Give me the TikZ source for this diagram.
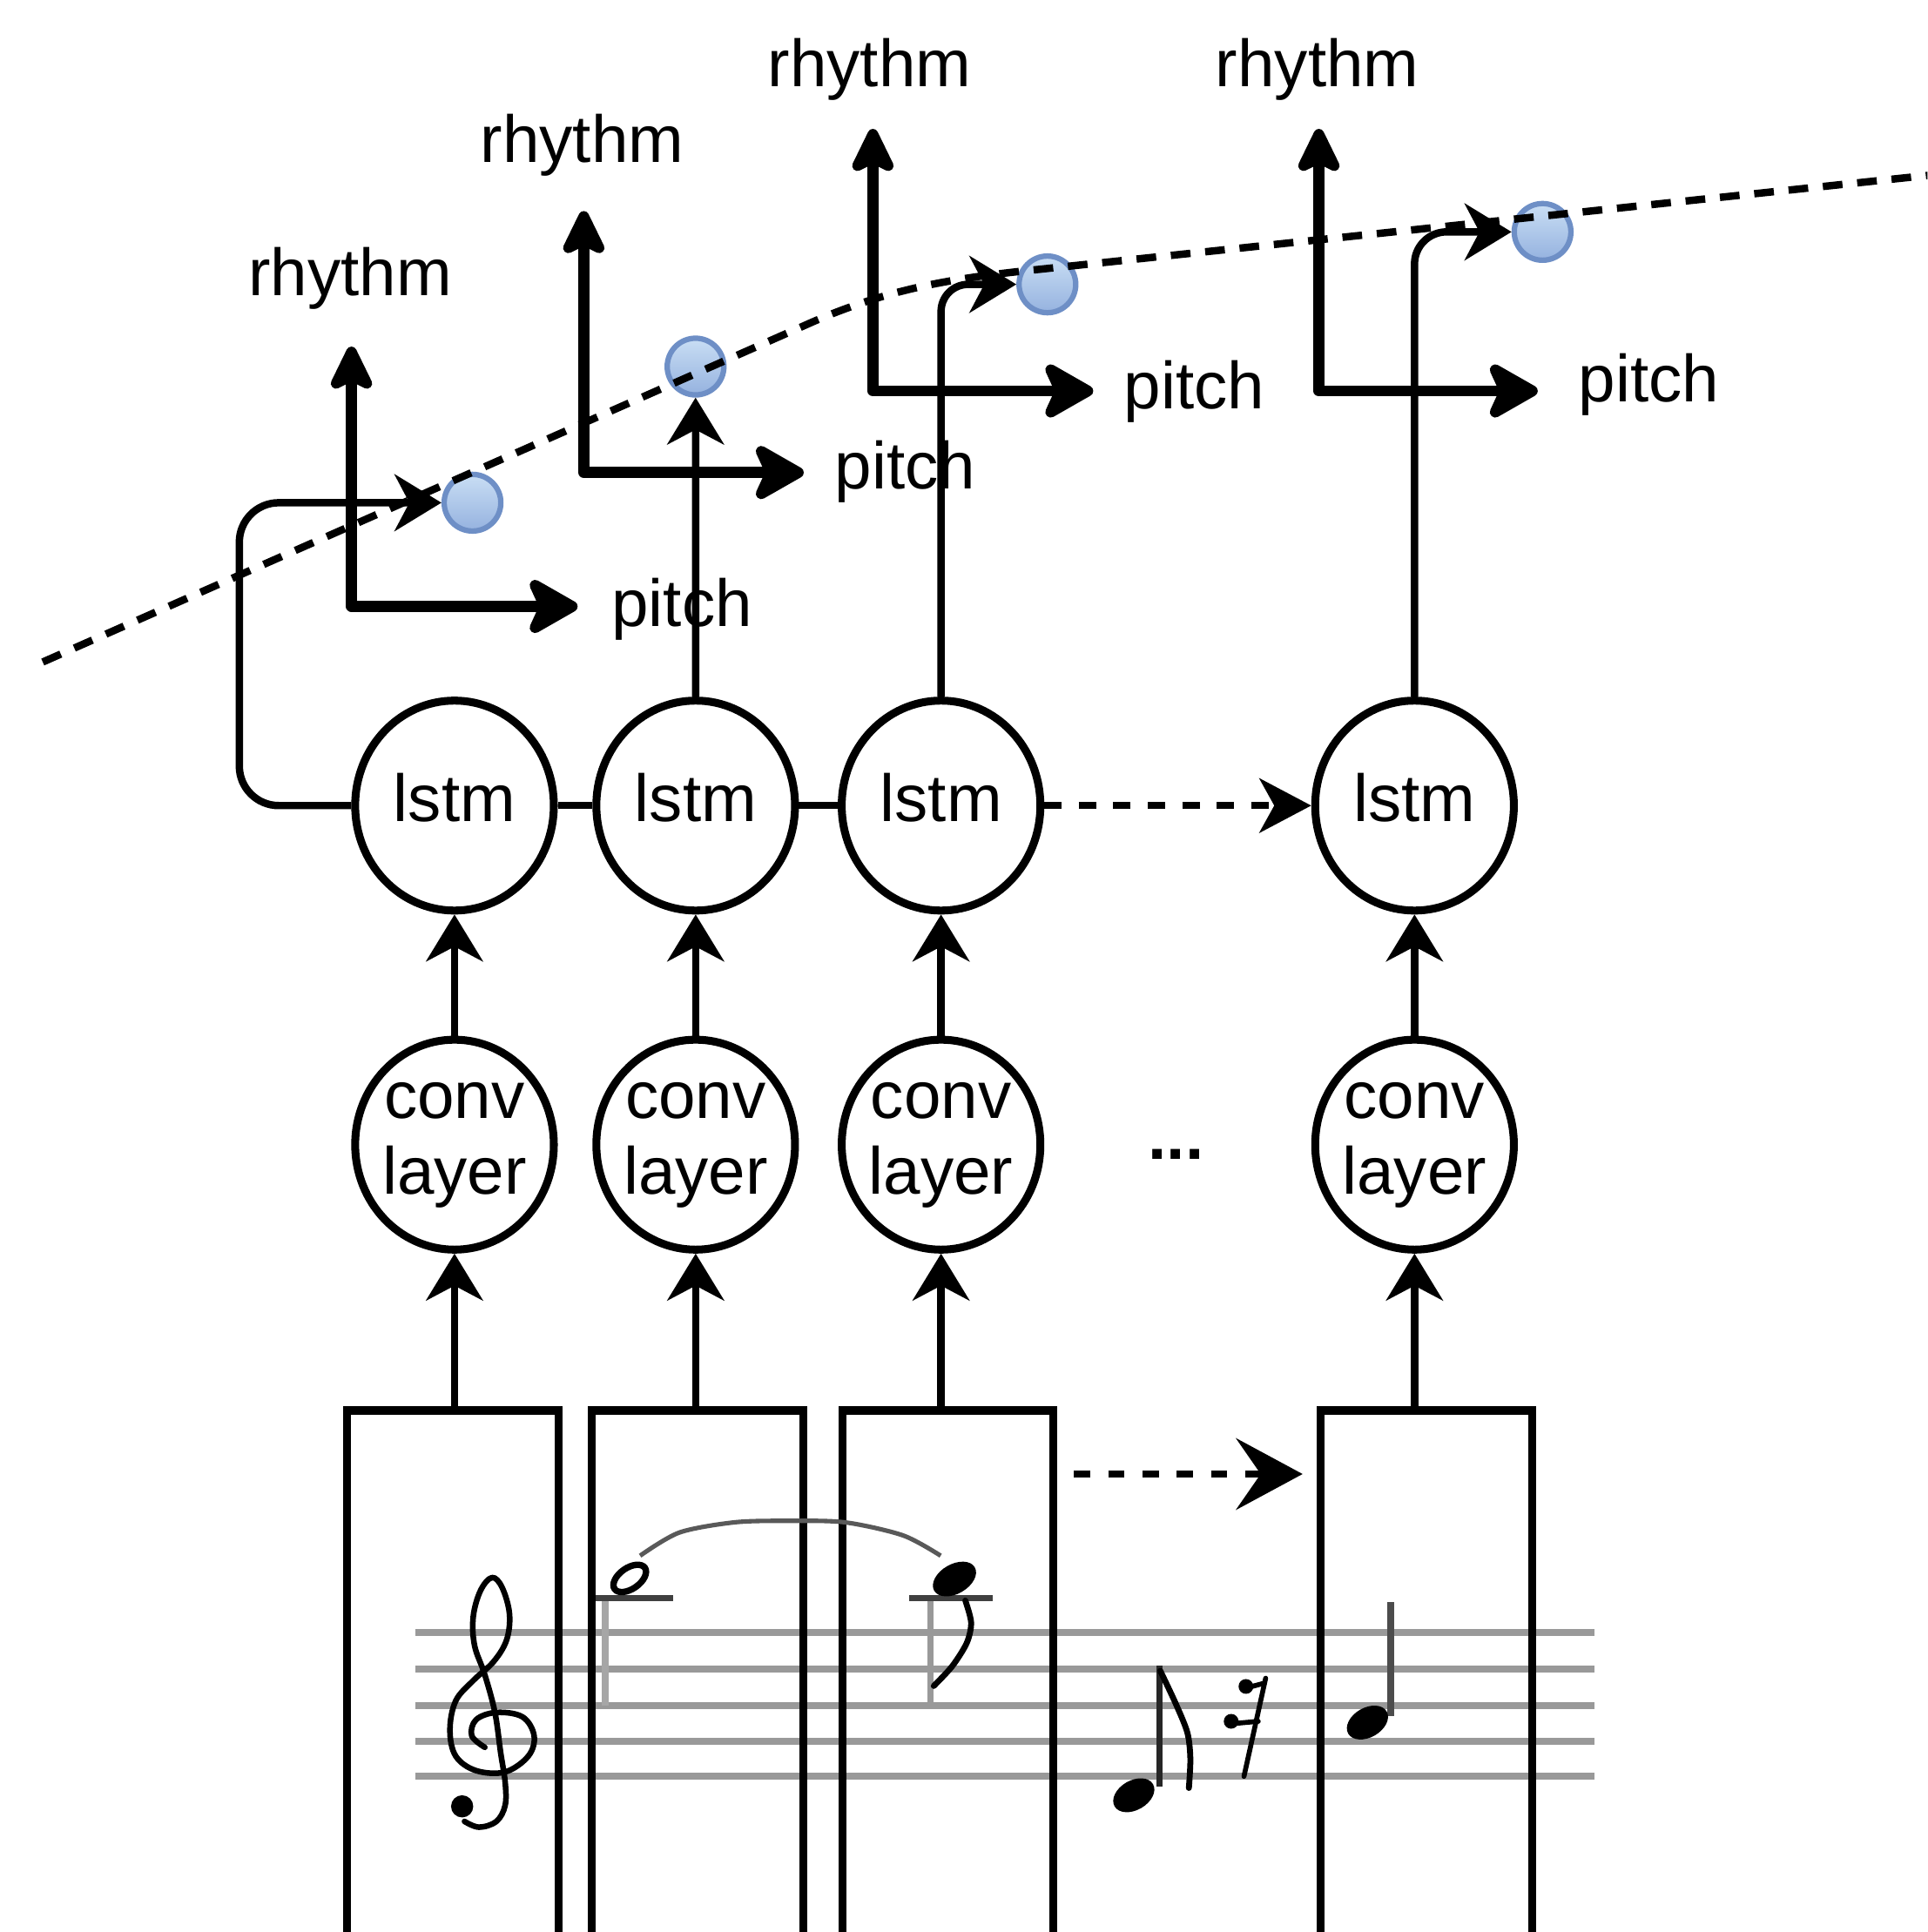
\documentclass[tikz,border=0pt]{standalone}
\usepackage{fontspec}
\setmainfont{Liberation Sans}
\usetikzlibrary{arrows.meta,shapes.geometric}
\definecolor{beadtop}{HTML}{C9DEF4}
\definecolor{beadbot}{HTML}{95B2DF}
\definecolor{beadline}{HTML}{6E8FC6}
\definecolor{staffgray}{HTML}{999999}
\tikzset{
  lbl/.style={font=\fontsize{27}{30.75}\selectfont, inner sep=0pt},
  cellnode/.style={ellipse, draw, line width=3.2pt, minimum width=80.6pt, minimum height=85.2pt, inner sep=0pt, font=\fontsize{27}{30.75}\selectfont},
  lstmcell/.style={cellnode, text height=19.5pt, text depth=6.9pt},
  convcell/.style={cellnode, align=center, text height=50pt, text depth=9.8pt},
  scorebox/.style={draw, line width=3.2pt, minimum width=85.7pt, minimum height=227.65pt, inner sep=0pt},
  conn/.style={line width=3pt, -{Stealth[length=19pt, width=23pt, inset=6pt]}},
  link/.style={line width=3pt},
  dconn/.style={line width=3pt, dash pattern=on 7pt off 7pt, -{Stealth[length=21pt, width=22pt, inset=6pt]}},
  bigdconn/.style={line width=2.8pt, dash pattern=on 6.6pt off 7.3pt, -{Stealth[length=27pt, width=29pt, inset=10pt]}},
  axisarrow/.style={line width=4.4pt, line join=round, {Stealth[length=22pt, width=21pt, inset=5pt, round]}-{Stealth[length=24pt, width=27pt, inset=6pt, round]}},
  bead/.style={circle, draw=beadline, line width=2.2pt, top color=beadtop, bottom color=beadbot, minimum size=23pt, inner sep=0pt},
  trend/.style={line width=3pt, dash pattern=on 8pt off 6pt},
  stave/.style={draw=staffgray, line width=2.8pt},
  ink/.style={line width=2pt, line cap=round, line join=round},
}
\begin{document}
\begin{tikzpicture}[x=0.5pt, y=-0.5pt]
\useasboundingbox (0,0) rectangle (1564,1568);
\clip (0,0) rectangle (1564,1568);

% staff
\foreach \yy in {1325,1354.5,1384,1413,1441.5}
  \draw[stave] (337,\yy) -- (1294,\yy);

% score boxes
\node[scorebox] (r1) at (367.3,1372.35) {};
\node[scorebox] (r2) at (566,1372.35) {};
\node[scorebox] (r3) at (769.1,1372.35) {};
\node[scorebox] (r4) at (1157.4,1372.35) {};

% treble clef
\draw[ink, line width=2.3pt] plot[smooth, tension=0.6] coordinates {
 (393.4,1418.1) (382.8,1408.7) (386.3,1395.7) (402.8,1389.8) (424.0,1393.4)
 (433.4,1408.7) (428.7,1425.2) (409.9,1438.1) (386.3,1437.0) (369.8,1425.2)
 (365.1,1404.0) (369.8,1380.4) (384.0,1363.9) (400.5,1348.6) (411.1,1330.9)
 (413.4,1309.7) (407.5,1288.5) (399.3,1280.3) (389.9,1290.9) (384.0,1312.1)
 (385.1,1335.6) (393.4,1359.2) (401.6,1389.8) (406.3,1422.8) (409.9,1446.4)
 (409.9,1465.2) (402.8,1478.2) (388.7,1482.9) (376.9,1478.2)};
\fill (375,1466) circle[radius=9];

% half note with slur
\draw[line width=2.8pt, black!35] (491,1297) -- (491,1384);
\draw[line width=2.4pt, black!75] (483,1297) -- (546.5,1297);
\draw[line width=2.6pt, rotate around={35:(511,1281)}] (511,1281) ellipse[x radius=15, y radius=8.5];
\draw[line width=1.8pt, black!65] plot[smooth] coordinates {(519.4,1262.6) (551.2,1243.8) (596,1235.5) (638.4,1234.3) (685.5,1235.5) (732.7,1246.1) (763.3,1262.6)};

% note in third box
\draw[line width=2.8pt, black!40] (755,1297) -- (755,1385);
\draw[line width=2.4pt, black!75] (737.4,1297) -- (805.7,1297);
\fill[rotate around={30:(774.5,1281.5)}] (774.5,1281.5) ellipse[x radius=19, y radius=12];
\draw[ink, line width=2.4pt] plot[smooth] coordinates {(783.3,1299) (788,1316.8) (784.5,1333.3) (772.7,1352.2) (757.7,1368.3)};

% eighth note
\draw[line width=2.6pt, black!85] (940.7,1352) -- (940.7,1450);
\fill[rotate around={30:(920,1457)}] (920,1457) ellipse[x radius=18, y radius=12];
\draw[ink, line width=2.4pt] plot[smooth] coordinates {(941.5,1356) (954.1,1382.8) (963.5,1406.3) (965.9,1427.5) (964.7,1451.1)};

% rest
\fill (1011,1368.7) circle[radius=6];
\fill (999,1397) circle[radius=6];
\draw[ink] (1011,1370) -- (1026,1366);
\draw[ink] (999,1399) -- (1021,1397);
\draw[ink] (1027,1362) -- (1009.4,1441.7);

% note in fourth box
\draw[line width=2.6pt, black!70] (1128.4,1300.3) -- (1128.4,1393);
\fill[rotate around={30:(1109.6,1398)}] (1109.6,1398) ellipse[x radius=18, y radius=12];

% conv and lstm cells
\node[convcell] (c1) at (368.8,929) {\makebox[0pt]{conv}\\\makebox[0pt]{layer}};
\node[convcell] (c2) at (564.5,929) {\makebox[0pt]{conv}\\\makebox[0pt]{layer}};
\node[convcell] (c3) at (763.6,929) {\makebox[0pt]{conv}\\\makebox[0pt]{layer}};
\node[convcell] (c4) at (1147.8,929) {\makebox[0pt]{conv}\\\makebox[0pt]{layer}};
\node[lstmcell] (l1) at (368.8,653.8) {lstm};
\node[lstmcell] (l2) at (564.5,653.8) {lstm};
\node[lstmcell] (l3) at (763.6,653.8) {lstm};
\node[lstmcell] (l4) at (1147.8,653.8) {lstm};
\node[lbl, font=\fontsize{27}{30}\selectfont\bfseries, anchor=base] (dots) at (954.2,941) {...};

\foreach \i in {1,2,3,4} {
  \draw[conn] (c\i.south |- r\i.north) -- (c\i.south);
  \draw[conn] (c\i.north) -- (l\i.south);
}
\draw[link] (l1.east) -- (l2.west);
\draw[link] (l2.east) -- (l3.west);
\draw[dconn] (l3.east) -- (l4.west);
\coordinate (g1) at (871.5,1196.3);
\coordinate (g2) at (1057,1196.3);
\draw[bigdconn] (g1) -- (g2);

% axes
\coordinate (o1) at (285.2,492.2);  \coordinate (t1) at (285.2,281.3);  \coordinate (p1) at (468.7,492.2);
\coordinate (o2) at (473.7,383.5);  \coordinate (t2) at (473.7,171.3);  \coordinate (p2) at (652.2,383.5);
\coordinate (o3) at (708.3,317.3);  \coordinate (t3) at (708.3,104.6);  \coordinate (p3) at (887.1,317.3);
\coordinate (o4) at (1070.2,317.3); \coordinate (t4) at (1070.2,104.6); \coordinate (p4) at (1247.8,317.3);
\foreach \i in {1,2,3,4}
  \draw[axisarrow] (t\i) -- (o\i) -- (p\i);

\node[lbl, anchor=base] (rh1) at (284,239.8) {rhythm};
\node[lbl, anchor=base] (rh2) at (472.3,131.6) {rhythm};
\node[lbl, anchor=base] (rh3) at (705.5,70.3) {rhythm};
\node[lbl, anchor=base] (rh4) at (1068.9,70.3) {rhythm};
\node[lbl, anchor=base west] (pi1) at (496,508.4) {pitch};
\node[lbl, anchor=base west] (pi2) at (677,396.7) {pitch};
\node[lbl, anchor=base west] (pi3) at (911.7,331.8) {pitch};
\node[lbl, anchor=base west] (pi4) at (1280.6,326.3) {pitch};

% beads
\node[bead] (d1) at (383.4,408) {};
\node[bead] (d2) at (564.4,297.5) {};
\node[bead] (d3) at (849.9,230.8) {};
\node[bead] (d4) at (1251.7,188.2) {};

% outputs of the lstm cells
\coordinate (k1) at (194.2,530);
\draw[conn, rounded corners=16pt] (l1.west) -| (k1) |- (d1.west);
\draw[conn] (l2.north) -- (d2.south);
\draw[conn, rounded corners=11pt] (l3.north) |- (d3.west);
\draw[conn, rounded corners=13pt] (l4.north) |- (d4.west);

% trend line
\coordinate (s0) at (34.7,537.3);
\coordinate (s1) at (660,261);
\coordinate (s2) at (830,220);
\coordinate (s3) at (1580,140.7);
\draw[trend] (s0) -- (s1) .. controls (720,235) and (770,226.5) .. (s2) -- (s3);
\end{tikzpicture}
\end{document}
